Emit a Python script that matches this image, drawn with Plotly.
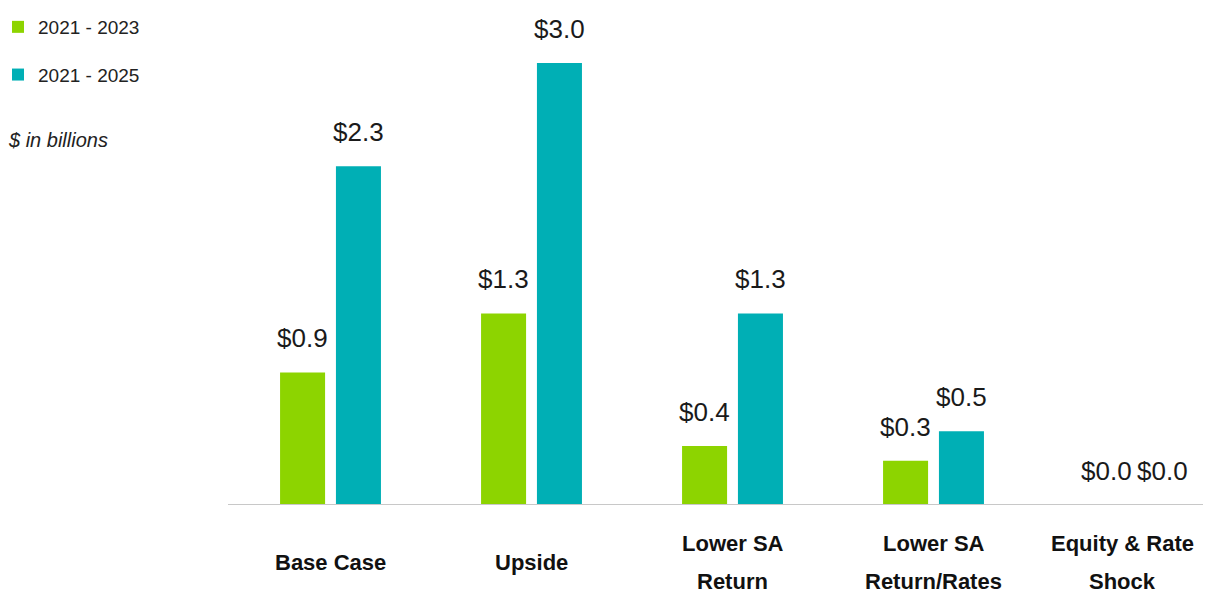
import plotly.graph_objects as go

categories = ["Base Case", "Upside", "Lower SA<br>Return", "Lower SA<br>Return/Rates", "Equity & Rate<br>Shock"]
series_names = ["2021 - 2023", "2021 - 2025"]
values_2023 = [0.9, 1.3, 0.4, 0.3, 0.0]
values_2025 = [2.3, 3.0, 1.3, 0.5, 0.0]
colors = ["#8DD400", "#00AFB5"]
unit_note = "$ in billions"

FONT = "Liberation Sans, Arial, sans-serif"

# figure sits inside the page body (8px default margin)
W, H = 1203, 607
ML, MR, MT, MB = 220, 0, 0, 110
PW, PH = W - ML - MR, H - MT - MB

x_idx = list(range(len(categories)))
bar_w = 0.224
offsets = [-0.251, 0.027]
series = [values_2023, values_2025]

fig = go.Figure()
for k, (name, vals) in enumerate(zip(series_names, series)):
    fig.add_trace(go.Bar(
        x=x_idx, y=vals, name=name, width=bar_w, offset=offsets[k],
        marker=dict(color=colors[k], line=dict(width=0)),
        legendgroup=name, hoverinfo="skip",
    ))
    for i, v in zip(x_idx, vals):
        fig.add_annotation(
            x=i + offsets[k] + bar_w / 2, y=v, xref="x", yref="y",
            text=f"${v:.1f}", showarrow=False, yanchor="bottom", yshift=17,
            font=dict(family=FONT, size=26, color="#1a1a1a"),
        )

LINE_STEP = 38.5
CENTER_SHIFT = -57.5
for i, c in zip(x_idx, categories):
    lines = c.split("<br>")
    n = len(lines)
    for j, ln in enumerate(lines):
        fig.add_annotation(
            x=i, y=0, xref="x", yref="paper", text=f"<b>{ln}</b>", showarrow=False,
            yanchor="middle", yshift=CENTER_SHIFT - (j - (n - 1) / 2) * LINE_STEP,
            xshift=-12 if i == x_idx[-1] else 0,
            font=dict(family=FONT, size=22, color="#111111"),
        )

fig.add_annotation(
    x=(-2 - ML) / PW, y=(PH - 132) / PH, xref="paper", yref="paper",
    text=f"<i>{unit_note}</i>", showarrow=False, xanchor="left", yanchor="middle",
    font=dict(family=FONT, size=20, color="#222222"),
)

fig.update_layout(
    width=W, height=H,
    margin=dict(l=ML, r=MR, t=MT, b=MB, pad=0, autoexpand=False),
    paper_bgcolor="white", plot_bgcolor="white",
    showlegend=True,
    legend=dict(
        x=(-10 - ML) / PW, y=1, xref="paper", yref="container", xanchor="left", yanchor="top",
        font=dict(family=FONT, size=19, color="#222222"),
        tracegroupgap=20, bgcolor="rgba(0,0,0,0)",
    ),
    xaxis=dict(
        range=[-0.51, -0.51 + PW / 201], showticklabels=False, showgrid=False,
        zeroline=False, showline=False, ticks="",
    ),
    yaxis=dict(
        range=[0, PH / 147.33], visible=False, showgrid=False, zeroline=False,
    ),
    shapes=[dict(type="line", xref="paper", yref="y", x0=0, x1=1, y0=0, y1=0,
                 line=dict(color="#c8c8c8", width=2))],
)

fig.write_html("out.html")
